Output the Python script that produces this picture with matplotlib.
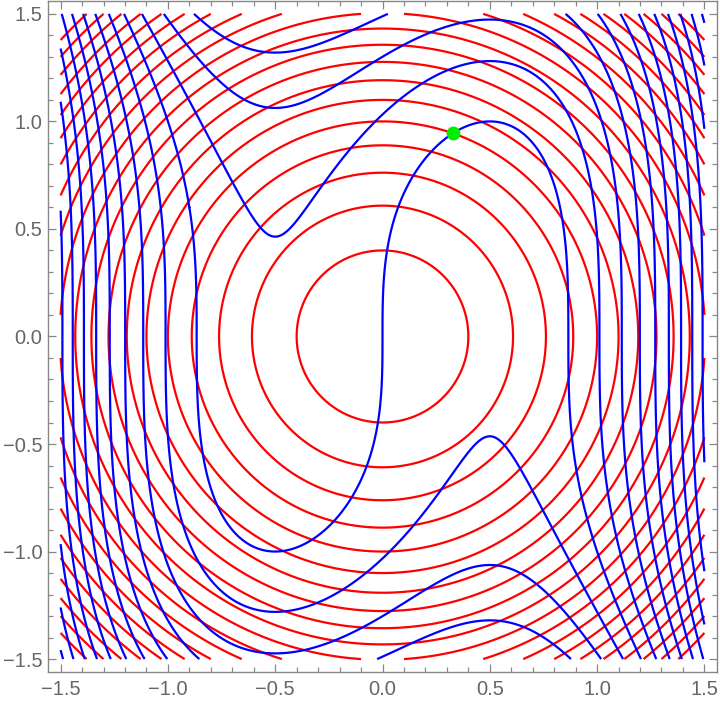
import matplotlib
matplotlib.use("Agg")
import matplotlib.pyplot as plt
from matplotlib.ticker import MultipleLocator
import numpy as np

# the two curve families and their contour levels
# red:  x^2 + y^2 = level      blue: 4x^3 - 3x + y^3 = level
red_levels = [1.0 + 0.21 * k for k in range(-4, 16)]
blue_levels = [1.1 * k for k in range(-11, 12)]
x_range = (-1.5, 1.5)
y_range = (-1.5, 1.5)
# solution point where the two level-0 / level-1 curves meet
point_x = [0.329]
point_y = [0.944]

xs = np.linspace(x_range[0], x_range[1], 801)
ys = np.linspace(y_range[0], y_range[1], 801)
X, Y = np.meshgrid(xs, ys)
F = X**2 + Y**2
G = 4 * X**3 - 3 * X + Y**3

fig = plt.figure(figsize=(7.2, 7.06), dpi=100)
ax = fig.add_axes([0.0663, 0.0482, 0.9299, 0.9504])

ax.contour(X, Y, F, levels=red_levels, colors='#ff0000', linewidths=1.6,
           linestyles='solid')
ax.contour(X, Y, G, levels=blue_levels, colors='#0000ff', linewidths=1.6,
           linestyles='solid')
ax.plot(point_x, point_y, 'o', color='#00ee00', markersize=10, markeredgewidth=0)

pad = 0.06
ax.set_xlim(x_range[0] - pad, x_range[1] + pad)
ax.set_ylim(y_range[0] - pad, y_range[1] + pad)

frame = '#888888'
for s in ax.spines.values():
    s.set_color(frame)
    s.set_linewidth(1.0)

ax.xaxis.set_major_locator(MultipleLocator(0.5))
ax.yaxis.set_major_locator(MultipleLocator(0.5))
ax.xaxis.set_minor_locator(MultipleLocator(0.1))
ax.yaxis.set_minor_locator(MultipleLocator(0.1))
ax.tick_params(which='both', direction='in', top=True, right=True,
               color=frame, width=0.9)
ax.tick_params(which='major', length=6, labelsize=14.5, labelcolor='#666666')
ax.tick_params(axis='x', which='major', pad=6)
ax.tick_params(axis='y', which='major', pad=4)
ax.tick_params(which='minor', length=3.5)
fmt = plt.FuncFormatter(lambda v, p: f'{v:.1f}'.replace('-', '\u2212'))
ax.xaxis.set_major_formatter(fmt)
ax.yaxis.set_major_formatter(fmt)
for lab in ax.get_xticklabels() + ax.get_yticklabels():
    lab.set_family(['Liberation Sans', 'DejaVu Sans'])

fig.savefig('out.png', dpi=100)
